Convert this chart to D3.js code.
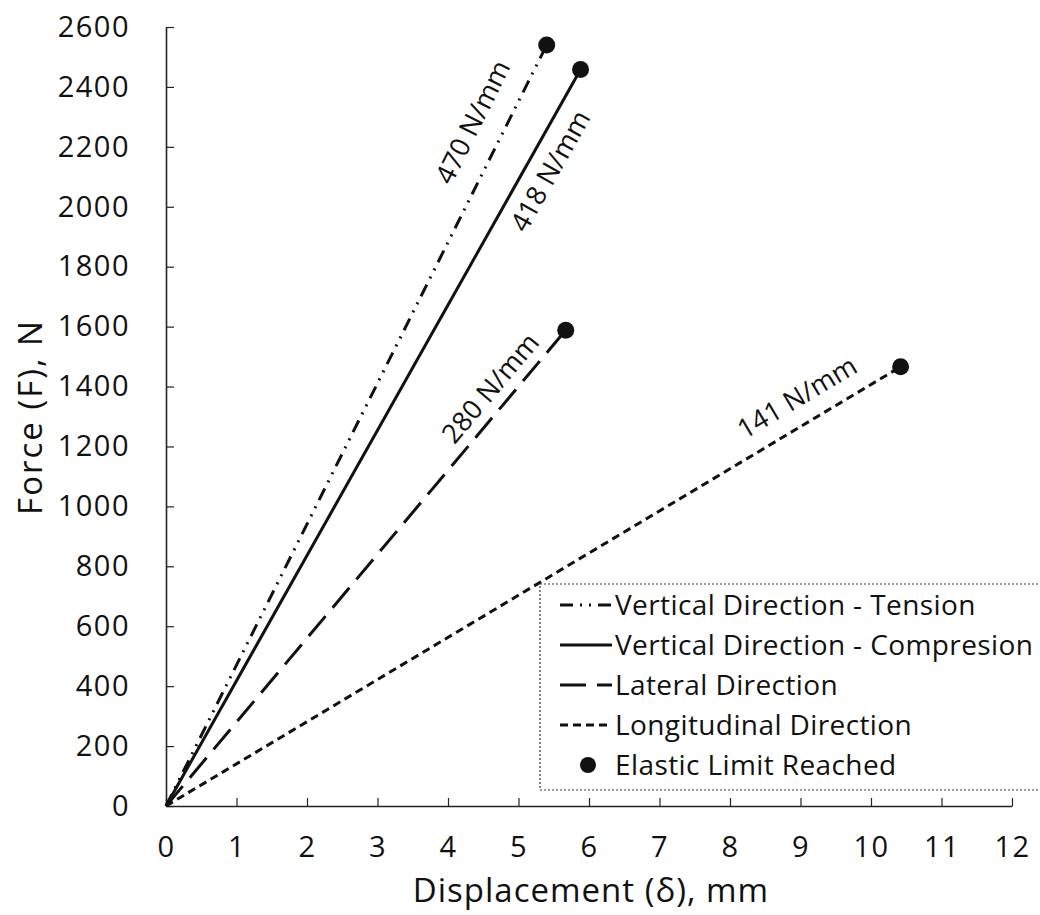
<!DOCTYPE html>
<html lang="en">
<head>
<meta charset="utf-8">
<title>Force vs displacement</title>
<style>
  body { margin: 0; background: #fff; }
  text { font-family: "Open Sans", sans-serif; fill: #111; }
</style>
</head>
<body>
<script src="https://cdn.jsdelivr.net/npm/d3@7"></script>
<script>
// series: each line goes from the origin to the elastic limit point
var seriesNames = ["Vertical Direction - Tension", "Vertical Direction - Compresion", "Lateral Direction", "Longitudinal Direction"];
var seriesX = [[0, 5.4], [0, 5.88], [0, 5.67], [0, 10.42]];
var seriesF = [[0, 2540], [0, 2458], [0, 1588], [0, 1466]];
var stiffness = ["470 N/mm", "418 N/mm", "280 N/mm", "141 N/mm"];
var dashes = ["13,7,2,7,2,7", null, "26,11", "8,5"];

// where the stiffness label sits (data coords)
var labelX = [4.35, 5.45, 4.6, 8.95];
var labelF = [2283, 2120, 1395, 1364];

var xTicks = d3.range(0, 13, 1);
var yTicks = d3.range(0, 2601, 200);

var width = 1040, height = 915;
var svg = d3.select("body").append("svg")
    .attr("width", width)
    .attr("height", height);

var x = d3.scaleLinear().domain([0, 12]).range([166, 1012]);
var y = d3.scaleLinear().domain([0, 2600]).range([806, 27]);

// axes
var xAxis = d3.axisBottom(x).tickValues(xTicks).tickFormat(d3.format("d"))
    .tickSizeInner(-8).tickSizeOuter(0).tickPadding(30);
var yAxis = d3.axisLeft(y).tickValues(yTicks).tickFormat(d3.format("d"))
    .tickSizeInner(-8).tickSizeOuter(0).tickPadding(36);

var gx = svg.append("g").attr("transform", "translate(0," + y(0) + ")").call(xAxis);
var gy = svg.append("g").attr("transform", "translate(" + x(0) + ",0)").call(yAxis);
[gx, gy].forEach(function(g) {
    g.select(".domain").attr("stroke", "#222").attr("stroke-width", 1.6);
    g.selectAll(".tick line").attr("stroke", "#222").attr("stroke-width", 1.2);
    g.selectAll(".tick text").style("font-family", "Open Sans").style("font-size", "29px")
        .attr("fill", "#111").style("letter-spacing", "1.5px");
});
gx.selectAll(".tick text").attr("dy", "0.71em");

svg.append("text")
    .attr("x", 591).attr("y", 902)
    .attr("text-anchor", "middle")
    .style("font-size", "33px").style("letter-spacing", "1px")
    .text("Displacement (δ), mm");

svg.append("text")
    .attr("transform", "translate(42,417) rotate(-90)")
    .attr("text-anchor", "middle")
    .style("font-size", "33px").style("letter-spacing", "2px")
    .text("Force (F), N");

// lines
var line = d3.line().x(function(d) { return x(d[0]); }).y(function(d) { return y(d[1]); });
seriesNames.forEach(function(name, i) {
    var pts = seriesX[i].map(function(v, j) { return [v, seriesF[i][j]]; });
    svg.append("path")
        .datum(pts)
        .attr("d", line)
        .attr("fill", "none")
        .attr("stroke", "#111")
        .attr("stroke-width", 3)
        .attr("stroke-dasharray", dashes[i]);
});

// elastic limit dots
svg.append("g").selectAll("circle")
    .data(seriesNames)
    .enter().append("circle")
    .attr("cx", function(d, i) { return x(seriesX[i][1]); })
    .attr("cy", function(d, i) { return y(seriesF[i][1]); })
    .attr("r", 8.5)
    .attr("fill", "#111");

// stiffness labels, rotated along their line
stiffness.forEach(function(t, i) {
    var dx = x(seriesX[i][1]) - x(0), dy = y(seriesF[i][1]) - y(0);
    var ang = Math.atan2(dy, dx) * 180 / Math.PI;
    svg.append("text")
        .attr("transform", "translate(" + x(labelX[i]) + "," + y(labelF[i]) + ") rotate(" + ang + ")")
        .attr("text-anchor", "middle")
        .attr("dy", "0.35em")
        .style("font-size", "27px")
        .text(t);
});

// legend
var lg = svg.append("g");
lg.append("rect")
    .attr("x", 540).attr("y", 584)
    .attr("width", 520).attr("height", 206)
    .attr("fill", "#fff")
    .attr("stroke", "#333").attr("stroke-width", 1.2)
    .attr("stroke-dasharray", "2,2");

var rowY = d3.scaleLinear().domain([0, 4]).range([605, 765]);
seriesNames.forEach(function(name, i) {
    lg.append("line")
        .attr("x1", 560).attr("x2", 612)
        .attr("y1", rowY(i)).attr("y2", rowY(i))
        .attr("stroke", "#111").attr("stroke-width", 3)
        .attr("stroke-dasharray", dashes[i]);
    lg.append("text")
        .attr("x", 615).attr("y", rowY(i)).attr("dy", "0.35em")
        .style("font-size", "28px").style("letter-spacing", "0.4px")
        .text(name);
});
lg.append("circle").attr("cx", 588).attr("cy", rowY(4)).attr("r", 8).attr("fill", "#111");
lg.append("text")
    .attr("x", 615).attr("y", rowY(4)).attr("dy", "0.35em")
    .style("font-size", "28px").style("letter-spacing", "0.4px")
    .text("Elastic Limit Reached");
</script>
</body>
</html>
